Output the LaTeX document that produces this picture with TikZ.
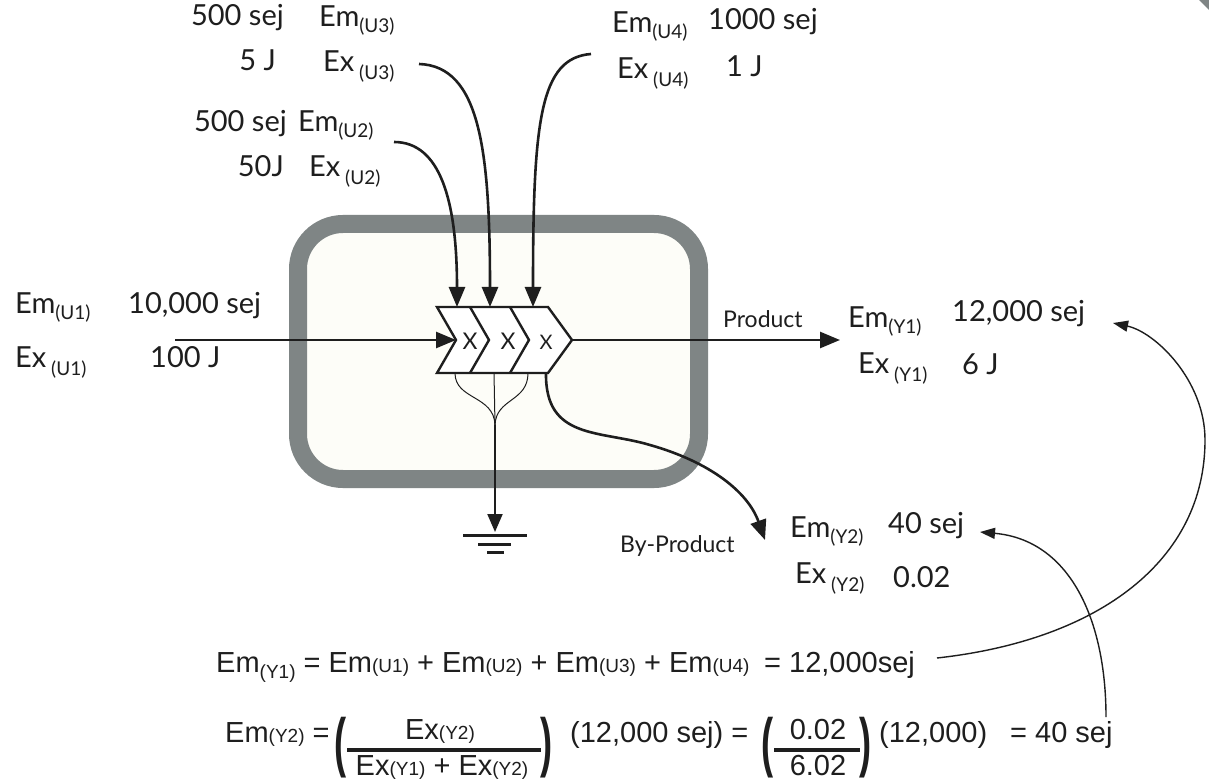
\documentclass[tikz,border=0pt]{standalone}
\usepackage{fontspec}
\setmainfont{Lato}
\newfontfamily\eqfont{Liberation Sans}
\usetikzlibrary{arrows.meta}
\definecolor{boxgray}{HTML}{7F8585}
\definecolor{boxfill}{HTML}{FDFDF8}
\definecolor{ink}{HTML}{1E1E1E}
\newcommand\subm[1]{\raisebox{-6pt}{\fontsize{19}{19}\selectfont(#1)}}
\newcommand\subx[1]{\,\raisebox{-8pt}{\fontsize{19}{19}\selectfont(#1)}}
\newcommand\eqs[1]{{\fontsize{19}{19}\selectfont(#1)}}
\newcommand\eqsl[1]{\raisebox{-6pt}{\fontsize{19}{19}\selectfont(#1)}}
\newcommand\bigparL{\scalebox{1.25}[2.25]{\bfseries(}}
\newcommand\bigparR{\scalebox{1.25}[2.25]{\bfseries)}}
\begin{document}
\begin{tikzpicture}[x=1pt,y=-1pt,
  lbl/.style={font=\fontsize{29}{32}\selectfont, text=ink, inner sep=0pt},
  small/.style={font=\fontsize{23}{25}\selectfont, text=ink, inner sep=0pt},
  eq/.style={font=\eqfont\fontsize{29}{31}\selectfont, text=ink, inner sep=0pt},
  mult/.style={font=\fontsize{23}{23}\selectfont, text=ink, inner sep=0pt},
  flow/.style={line width=2.6pt, draw=ink, -{Triangle[length=20pt,width=16pt]}},
  thinflow/.style={line width=1.4pt, draw=ink, -{Triangle[length=15pt,width=11pt]}},
  heat/.style={line width=1pt, draw=ink},
  chev/.style={line width=2.4pt, draw=ink, line join=miter},
  grnd/.style={line width=3pt, draw=ink},
  rule/.style={line width=3.2pt, draw=ink}]
\useasboundingbox (0,0) rectangle (1209,783);
\fill[white] (0,0) rectangle (1209,783);
\fill[boxgray] (1199,0) -- (1209,0) -- (1209,10) -- cycle;

% system boundary
\draw[line width=18pt, draw=boxgray, fill=boxfill, rounded corners=45pt] (298,224) rectangle (699,479);

% chevrons (multiplier)
\draw[chev, fill=white] (437,307) -- (548,307) -- (572,340) -- (548,373) -- (437,373) -- (456,340) -- cycle;
\draw[chev] (470,307) -- (489,340) -- (470,373);
\draw[chev] (510,307) -- (529,340) -- (510,373);
\node[mult] (x1) at (470,341) {X};
\node[mult] (x2) at (508,341) {X};
\node[mult, font=\fontsize{20}{20}\selectfont] (x3) at (546,342) {X};

\coordinate (notch) at (456,340);
\coordinate (tip) at (572,340);
\coordinate (c1top) at (457,307);
\coordinate (c2top) at (490,307);
\coordinate (c3top) at (533,307);
\coordinate (c1bot) at (455,373);
\coordinate (c2bot) at (494,373);
\coordinate (c3bot) at (528,373);
\coordinate (c4bot) at (546,373);
\coordinate (merge) at (495,425);
\coordinate (gnd) at (495,532);

% top labels
\node[lbl, anchor=base east] (vU3) at (284,26) {500 sej};
\node[lbl, anchor=base west] (emU3) at (319,27) {Em\subm{U3}};
\node[lbl, anchor=base east] (jU3) at (276,71) {5 J};
\node[lbl, anchor=base west] (exU3) at (323,72) {Ex\subx{U3}};
\node[lbl, anchor=base east] (vU2) at (287,132) {500 sej};
\node[lbl, anchor=base west] (emU2) at (298,132) {Em\subm{U2}};
\node[lbl, anchor=base east] (jU2) at (284,177) {50J};
\node[lbl, anchor=base west] (exU2) at (309,177) {Ex\subx{U2}};
\node[lbl, anchor=base west] (emU4) at (612,33) {Em\subm{U4}};
\node[lbl, anchor=base west] (vU4) at (708,30) {1000 sej};
\node[lbl, anchor=base west] (exU4) at (617,79) {Ex\subx{U4}};
\node[lbl, anchor=base west] (jU4) at (726,77) {1 J};

% left labels
\node[lbl, anchor=base west] (emU1) at (15,313) {Em\subm{U1}};
\node[lbl, anchor=base west] (vU1) at (128,313) {10,000 sej};
\node[lbl, anchor=base west] (exU1) at (15,367) {Ex\subx{U1}};
\node[lbl, anchor=base west] (jU1) at (150,367) {100 J};
\coordinate (u1start) at (175,340);

% right labels
\node[small, anchor=base west] (prod) at (723,327) {Product};
\node[lbl, anchor=base west] (emY1) at (848,327) {Em\subm{Y1}};
\node[lbl, anchor=base west] (vY1) at (952,321) {12,000 sej};
\node[lbl, anchor=base west] (exY1) at (858,373) {Ex\subx{Y1}};
\node[lbl, anchor=base west] (jY1) at (962,374) {6 J};
\coordinate (prodend) at (840,340);

\node[small, anchor=base west] (byp) at (620,552) {By-Product};
\node[lbl, anchor=base west] (emY2) at (790,537) {Em\subm{Y2}};
\node[lbl, anchor=base west] (vY2) at (888,533) {40 sej};
\node[lbl, anchor=base west] (exY2) at (795,583) {Ex\subx{Y2}};
\node[lbl, anchor=base west] (jY2) at (893,587) {0.02};
\coordinate (bypend) at (765,540);

% equations
\node[eq, anchor=base west] (eq1) at (216,672) {Em\eqsl{Y1} = Em\eqs{U1} + Em\eqs{U2} + Em\eqs{U3} + Em\eqs{U4}};
\node[eq, anchor=base west] (eq1r) at (764,672) {= 12,000sej};
\coordinate (fb1start) at (937,658);
\coordinate (fb1end) at (1113,323);

\node[eq, anchor=base west] (eq2a) at (225,742) {Em\eqs{Y2} =};
\node[eq, inner sep=0pt] (pl1) at (341,748) {\bigparL};
\node[eq, anchor=base] (num1) at (440,739) {Ex\eqs{Y2}};
\node[eq, anchor=base] (den1) at (442,775) {Ex\eqs{Y1} + Ex\eqs{Y2}};
\node[eq, inner sep=0pt] (pr1) at (547,748) {\bigparR};
\node[eq, anchor=base west] (eq2b) at (570,742) {(12,000 sej) =};
\node[eq, inner sep=0pt] (pl2) at (768,748) {\bigparL};
\node[eq, anchor=base] (num2) at (818,739) {0.02};
\node[eq, anchor=base] (den2) at (818,775) {6.02};
\node[eq, inner sep=0pt] (pr2) at (866,748) {\bigparR};
\node[eq, anchor=base west] (eq2c) at (879,742) {(12,000)};
\node[eq, anchor=base west] (eq2d) at (1010,742) {= 40 sej};
\coordinate (fb2start) at (1106,717);
\coordinate (fb2end) at (980,532);

\draw[rule] (pl1.east |- 0,750) -- (pr1.west |- 0,750);
\draw[rule] (pl2.east |- 0,750) -- (pr2.west |- 0,750);

% flows
\coordinate (u2start) at (394,142);
\coordinate (u3start) at (419,64);
\coordinate (u4start) at (591,54);
\draw[flow] (u1start) -- (notch);
\draw[flow] (tip) -- (prodend);
\draw[flow] (u2start) .. controls (440,142) and (457,200) .. (c1top);
\draw[flow] (u3start) .. controls (480,66) and (490,150) .. (c2top);
\draw[flow] (u4start) .. controls (540,58) and (533,120) .. (c3top);
\draw[flow] (c4bot) .. controls (545,440) and (600,430) .. (650,445) .. controls (710,462) and (748,492) .. (bypend);

% heat sink
\draw[heat] (c1bot) .. controls (455,400) and (494,395) .. (merge);
\draw[heat] (c2bot) -- (merge);
\draw[heat] (c3bot) .. controls (528,402) and (496,398) .. (merge);
\draw[line width=2pt, draw=ink, -{Triangle[length=18pt,width=15pt]}] (merge) -- (gnd);
\draw[grnd] (463,535) -- (527,535);
\draw[grnd] (478,544) -- (511,544);
\draw[grnd] (487,552) -- (504,552);

% feedback
\draw[thinflow] (fb1start) .. controls (1100,640) and (1205,560) .. (1205,440) .. controls (1205,380) and (1155,332) .. (fb1end);
\draw[thinflow] (fb2start) .. controls (1106,620) and (1070,540) .. (fb2end);
\end{tikzpicture}
\end{document}
